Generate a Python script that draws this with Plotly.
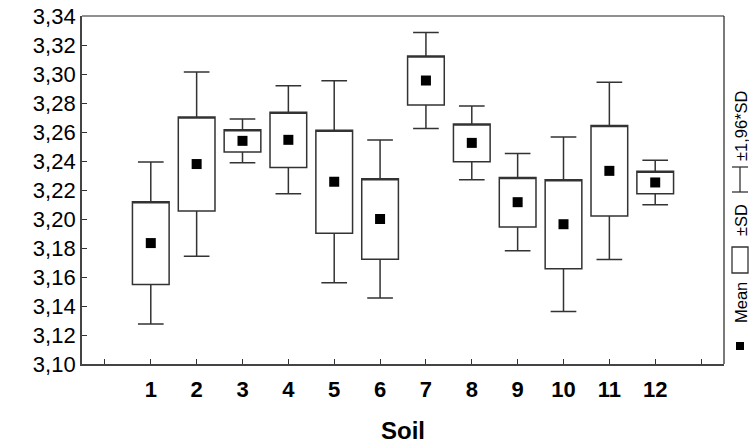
import plotly.graph_objects as go

soil = [1, 2, 3, 4, 5, 6, 7, 8, 9, 10, 11, 12]
means = [3.1834, 3.2379, 3.2539, 3.2546, 3.2257, 3.2000, 3.2955, 3.2525, 3.2116, 3.1964, 3.2332, 3.2252]
sds = [0.0285, 0.0324, 0.0077, 0.0190, 0.0355, 0.0278, 0.0169, 0.0130, 0.0171, 0.0307, 0.0312, 0.0078]
y_ticks = [3.10, 3.12, 3.14, 3.16, 3.18, 3.20, 3.22, 3.24, 3.26, 3.28, 3.30, 3.32, 3.34]
x_ticks = list(range(0, 14))
x_labels = [""] + [str(s) for s in soil] + [""]
x_title = "Soil"

q1 = [m - s for m, s in zip(means, sds)]
q3 = [m + s for m, s in zip(means, sds)]
lo = [m - 1.96 * s for m, s in zip(means, sds)]
hi = [m + 1.96 * s for m, s in zip(means, sds)]

fig = go.Figure()
fig.add_trace(go.Box(
    x=soil, q1=q1, median=q3, q3=q3, lowerfence=lo, upperfence=hi,
    width=0.8, whiskerwidth=0.7, fillcolor="white",
    line=dict(color="#333333", width=1.5), showlegend=False, boxpoints=False,
))
fig.add_trace(go.Scatter(
    x=soil, y=means, mode="markers",
    marker=dict(symbol="square", size=10, color="black"), showlegend=False,
))

L, R, T, B = 82, 25, 16, 79
W, H = 749, 443
pw, ph = W - L - R, H - T - B

def px(x):
    return (x - L) / pw

def py(y):
    return (H - B - y) / ph

font = "Liberation Sans, Arial, sans-serif"
fig.update_layout(
    width=W, height=H, margin=dict(l=L, r=R, t=T, b=B, autoexpand=False),
    plot_bgcolor="white", paper_bgcolor="white",
    font=dict(family=font, color="black"),
    xaxis=dict(range=[-0.5, 13.5], tickvals=x_ticks, ticktext=x_labels, automargin=False,
               ticks="inside", ticklen=5, tickcolor="#333", showgrid=False, zeroline=False,
               showline=True, linecolor="#444", linewidth=1.8,
               ticklabelstandoff=5,
               tickfont=dict(size=22, family=font, weight="bold")),
    yaxis=dict(range=[3.10, 3.34], tickvals=y_ticks, automargin=False,
               ticktext=[f"{v:.2f}".replace(".", ",") for v in y_ticks],
               ticks="inside", ticklen=5, tickcolor="#333", showgrid=False, zeroline=False,
               showline=True, linecolor="#444", linewidth=1.8,
               tickfont=dict(size=22, family=font)),
)

# top and right frame lines
fig.add_shape(type="line", xref="paper", yref="paper", x0=0, x1=1, y0=1, y1=1,
              line=dict(color="#222", width=1.2))
fig.add_shape(type="line", xref="paper", yref="paper", x0=1, x1=1, y0=0, y1=1,
              line=dict(color="#222", width=1.2))

fig.add_annotation(text=f"<b>{x_title}</b>", xref="paper", yref="paper",
                   x=0.5, y=py(430), xanchor="center", yanchor="middle",
                   showarrow=False, font=dict(size=24, family=font))

# rotated legend on the right
lx = 740
fig.add_shape(type="rect", xref="paper", yref="paper",
              x0=px(lx - 4), x1=px(lx + 4), y0=py(350), y1=py(342),
              fillcolor="black", line=dict(width=0))
fig.add_annotation(text="Mean", xref="paper", yref="paper", x=px(lx + 1), y=py(303),
                   xanchor="center", yanchor="middle",
                   textangle=-90, showarrow=False, font=dict(size=16.5, family=font))
fig.add_shape(type="rect", xref="paper", yref="paper",
              x0=px(lx - 8), x1=px(lx + 8), y0=py(273), y1=py(247),
              fillcolor="white", line=dict(color="#333", width=1.3))
fig.add_annotation(text="±SD", xref="paper", yref="paper", x=px(lx + 1), y=py(220),
                   xanchor="center", yanchor="middle",
                   textangle=-90, showarrow=False, font=dict(size=16.5, family=font))
fig.add_shape(type="line", xref="paper", yref="paper",
              x0=px(lx), x1=px(lx), y0=py(192), y1=py(167), line=dict(color="#333", width=1.3))
fig.add_shape(type="line", xref="paper", yref="paper",
              x0=px(lx - 8), x1=px(lx + 8), y0=py(192), y1=py(192), line=dict(color="#333", width=1.3))
fig.add_shape(type="line", xref="paper", yref="paper",
              x0=px(lx - 8), x1=px(lx + 8), y0=py(167), y1=py(167), line=dict(color="#333", width=1.3))
fig.add_annotation(text="±1,96*SD", xref="paper", yref="paper", x=px(lx + 1), y=py(126),
                   xanchor="center", yanchor="middle",
                   textangle=-90, showarrow=False, font=dict(size=16.5, family=font))

fig.write_html("out.html")
